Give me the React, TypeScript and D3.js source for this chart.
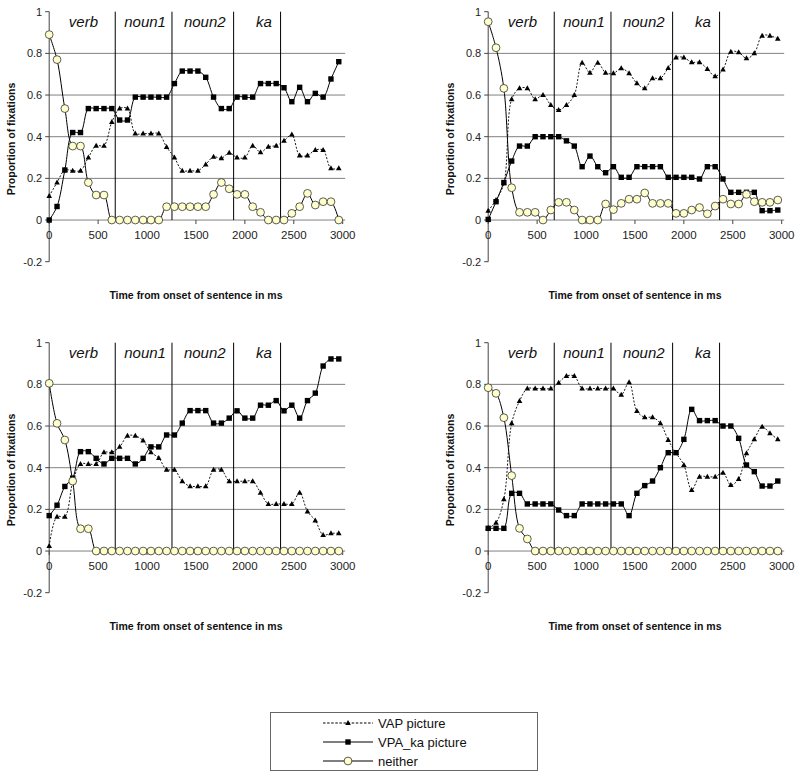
import React from 'react';
import * as d3 from 'd3';

// ---------- data ----------
const times = [0, 80, 160, 240, 320, 400, 480, 560, 640, 720, 800, 880, 960, 1040, 1120, 1200, 1280, 1360, 1440, 1520,
  1600, 1680, 1760, 1840, 1920, 2000, 2080, 2160, 2240, 2320, 2400, 2480, 2560, 2640, 2720, 2800, 2880, 2960];
const boundaries = [675, 1255, 1885, 2365];
const wordLabels = ['verb', 'noun1', 'noun2', 'ka'];
const wordLabelTimes = [350, 980, 1590, 2195];
const yTicks = [-0.2, 0, 0.2, 0.4, 0.6, 0.8, 1];
const gridValues = [0, 0.2, 0.4, 0.6, 0.8];
const xTicks = [0, 500, 1000, 1500, 2000, 2500, 3000];
const seriesNames = ['VAP picture', 'VPA_ka picture', 'neither'];
const xTitle = 'Time from onset of sentence in ms';
const yTitle = 'Proportion of fixations';

const p1VAP = [0.115, 0.18, 0.24, 0.237, 0.237, 0.30, 0.357, 0.357, 0.47, 0.535, 0.535, 0.415, 0.415, 0.415, 0.415, 0.35, 0.30, 0.237, 0.237, 0.237,
  0.267, 0.304, 0.296, 0.323, 0.30, 0.30, 0.357, 0.325, 0.352, 0.357, 0.38, 0.41, 0.31, 0.31, 0.336, 0.336, 0.248, 0.248];
const p1VPA = [0, 0.065, 0.24, 0.42, 0.42, 0.535, 0.535, 0.535, 0.535, 0.48, 0.48, 0.59, 0.59, 0.59, 0.59, 0.59, 0.655, 0.715, 0.715, 0.715,
  0.685, 0.59, 0.535, 0.535, 0.59, 0.59, 0.59, 0.655, 0.655, 0.655, 0.635, 0.568, 0.637, 0.568, 0.608, 0.59, 0.677, 0.76];
const p1Neither = [0.89, 0.77, 0.535, 0.355, 0.355, 0.18, 0.12, 0.12, 0, 0, 0, 0, 0, 0, 0, 0.064, 0.064, 0.064, 0.064, 0.064,
  0.064, 0.123, 0.18, 0.15, 0.123, 0.123, 0.064, 0.037, 0, 0, 0, 0.032, 0.064, 0.128, 0.072, 0.088, 0.088, 0];

const p2VAP = [0.045, 0.096, 0.176, 0.58, 0.632, 0.632, 0.58, 0.6, 0.552, 0.528, 0.552, 0.6, 0.755, 0.707, 0.755, 0.707, 0.704, 0.728, 0.704, 0.656,
  0.632, 0.68, 0.68, 0.73, 0.78, 0.78, 0.757, 0.757, 0.725, 0.69, 0.723, 0.808, 0.805, 0.776, 0.8, 0.885, 0.885, 0.87];
const p2VPA = [0.003, 0.088, 0.18, 0.283, 0.355, 0.355, 0.4, 0.4, 0.4, 0.4, 0.38, 0.355, 0.256, 0.307, 0.256, 0.227, 0.256, 0.205, 0.205, 0.256,
  0.256, 0.256, 0.256, 0.205, 0.205, 0.205, 0.205, 0.197, 0.256, 0.256, 0.197, 0.133, 0.133, 0.133, 0.133, 0.045, 0.045, 0.048];
const p2Neither = [0.952, 0.827, 0.632, 0.155, 0.037, 0.037, 0.037, 0, 0.048, 0.085, 0.085, 0.048, 0, 0, 0, 0.077, 0.05, 0.08, 0.1, 0.1,
  0.13, 0.08, 0.08, 0.08, 0.032, 0.032, 0.048, 0.06, 0.03, 0.067, 0.1, 0.077, 0.077, 0.123, 0.088, 0.085, 0.085, 0.096];

const p3VAP = [0.024, 0.165, 0.165, 0.33, 0.418, 0.418, 0.418, 0.474, 0.474, 0.5, 0.553, 0.553, 0.53, 0.474, 0.447, 0.39, 0.39, 0.335, 0.311, 0.311,
  0.311, 0.39, 0.39, 0.335, 0.335, 0.335, 0.335, 0.28, 0.226, 0.226, 0.226, 0.226, 0.28, 0.19, 0.147, 0.077, 0.085, 0.085];
const p3VPA = [0.17, 0.22, 0.31, 0.35, 0.477, 0.477, 0.445, 0.418, 0.445, 0.445, 0.445, 0.418, 0.445, 0.5, 0.5, 0.557, 0.557, 0.614, 0.674, 0.674,
  0.674, 0.614, 0.614, 0.638, 0.673, 0.638, 0.638, 0.70, 0.70, 0.722, 0.673, 0.70, 0.638, 0.722, 0.758, 0.888, 0.922, 0.922];
const p3Neither = [0.805, 0.613, 0.533, 0.336, 0.107, 0.107, 0, 0, 0, 0, 0, 0, 0, 0, 0, 0, 0, 0, 0, 0,
  0, 0, 0, 0, 0, 0, 0, 0, 0, 0, 0, 0, 0, 0, 0, 0, 0, 0];

const p4VAP = [0.11, 0.136, 0.248, 0.613, 0.72, 0.78, 0.78, 0.78, 0.78, 0.808, 0.84, 0.84, 0.78, 0.78, 0.78, 0.78, 0.78, 0.75, 0.81, 0.672,
  0.642, 0.642, 0.613, 0.533, 0.47, 0.413, 0.293, 0.357, 0.357, 0.357, 0.376, 0.317, 0.346, 0.469, 0.536, 0.597, 0.565, 0.536];
const p4VPA = [0.109, 0.109, 0.109, 0.277, 0.277, 0.226, 0.226, 0.226, 0.226, 0.197, 0.17, 0.17, 0.226, 0.226, 0.226, 0.226, 0.226, 0.226, 0.17, 0.277,
  0.314, 0.336, 0.4, 0.472, 0.472, 0.536, 0.68, 0.626, 0.626, 0.626, 0.6, 0.6, 0.541, 0.413, 0.381, 0.312, 0.312, 0.336];
const p4Neither = [0.784, 0.757, 0.64, 0.362, 0.109, 0.058, 0, 0, 0, 0, 0, 0, 0, 0, 0, 0, 0, 0, 0, 0,
  0, 0, 0, 0, 0, 0, 0, 0, 0, 0, 0, 0, 0, 0, 0, 0, 0, 0];

const panelData = [
  [p1VAP, p1VPA, p1Neither],
  [p2VAP, p2VPA, p2Neither],
  [p3VAP, p3VPA, p3Neither],
  [p4VAP, p4VPA, p4Neither],
];

// ---------- layout ----------
const W = 800;
const H = 778;
const offsets = [[0, 0], [439, 0], [0, 331], [439, 331]];
const FONT = "Arial, 'Liberation Sans', sans-serif";
const GRID = '#808080';
const CIRCLE_FILL = '#ffffcc';

const xScale = d3.scaleLinear().domain([0, 3000]).range([49.2, 342.7]);
const yScale = d3.scaleLinear().domain([-0.2, 1]).range([261.7, 11.7]);

const lineGen = d3.line<[number, number]>()
  .x(d => xScale(d[0]))
  .y(d => yScale(d[1]))
  .curve(d3.curveCatmullRom.alpha(0.5));

function Marker({ kind, cx, cy }: { kind: number; cx: number; cy: number }) {
  if (kind === 0) {
    const w = 5.6, h = 5;
    return <path d={`M${cx},${cy - h * 0.6}L${cx + w / 2},${cy + h * 0.4}L${cx - w / 2},${cy + h * 0.4}Z`} fill="#000" />;
  }
  if (kind === 1) {
    const s = 5.4;
    return <rect x={cx - s / 2} y={cy - s / 2} width={s} height={s} fill="#000" />;
  }
  return <circle cx={cx} cy={cy} r={3.9} fill={CIRCLE_FILL} stroke="#333" strokeWidth={0.8} />;
}

function Panel({ series, ox, oy }: { series: number[][]; ox: number; oy: number }) {
  const x0 = xScale(0);
  const x3000 = xScale(3000);
  const gridRight = x3000 + 2.5;
  return (
    <g transform={`translate(${ox},${oy})`}>
      {/* gridlines */}
      {gridValues.map(v => (
        <line key={'g' + v} x1={x0} x2={gridRight} y1={yScale(v)} y2={yScale(v)} stroke={GRID} strokeWidth={1} />
      ))}
      {/* y axis */}
      <line x1={x0} x2={x0} y1={yScale(1)} y2={yScale(-0.2)} stroke="#444" strokeWidth={1} />
      {yTicks.map(v => (
        <g key={'yt' + v}>
          <line x1={x0 - 4} x2={x0} y1={yScale(v)} y2={yScale(v)} stroke="#444" strokeWidth={1} />
          <text x={x0 - 7} y={yScale(v)} dy="0.35em" textAnchor="end" fontFamily={FONT} fontSize={11} fill="#222">
            {String(v)}
          </text>
        </g>
      ))}
      {/* x ticks */}
      {xTicks.map(t => (
        <g key={'xt' + t}>
          <line x1={xScale(t)} x2={xScale(t)} y1={yScale(0)} y2={yScale(0) + 4} stroke="#444" strokeWidth={1} />
          <text x={xScale(t)} y={yScale(0) + 19} textAnchor="middle" fontFamily={FONT} fontSize={11.5} fill="#222">
            {t}
          </text>
        </g>
      ))}
      {/* word boundaries */}
      {boundaries.map(b => (
        <line key={'b' + b} x1={xScale(b)} x2={xScale(b)} y1={yScale(1)} y2={yScale(0)} stroke="#000" strokeWidth={1} />
      ))}
      {wordLabels.map((w, i) => (
        <text key={w} x={xScale(wordLabelTimes[i])} y={yScale(1) + 15.5} textAnchor="middle" fontFamily={FONT}
          fontStyle="italic" fontSize={15} fill="#111">{w}</text>
      ))}
      {/* series */}
      {series.map((vals, si) => {
        const pts: [number, number][] = vals.map((v, i) => [times[i], v]);
        return (
          <g key={'s' + si}>
            <path d={lineGen(pts) || ''} fill="none" stroke="#000" strokeWidth={si === 0 ? 0.9 : 1}
              strokeDasharray={si === 0 ? '2,1.6' : undefined} />
            {pts.map((p, i) => (
              <Marker key={i} kind={si} cx={xScale(p[0])} cy={yScale(p[1])} />
            ))}
          </g>
        );
      })}
      {/* axis titles */}
      <text x={(x0 + x3000) / 2} y={299} textAnchor="middle" fontFamily={FONT} fontWeight="bold" fontSize={10.5} fill="#111">
        {xTitle}
      </text>
      <text transform={`translate(${x0 - 34.5},${139}) rotate(-90)`} textAnchor="middle" fontFamily={FONT}
        fontWeight="bold" fontSize={10.5} fill="#111">{yTitle}</text>
    </g>
  );
}

function Legend() {
  const bx = 270.5, by = 712.5, bw = 267, bh = 58;
  const rows = [723, 742, 761];
  const lx1 = 323, lx2 = 373, tx = 376;
  return (
    <g>
      <rect x={bx} y={by} width={bw} height={bh} fill="#fff" stroke="#666" strokeWidth={1} />
      {seriesNames.map((name, i) => (
        <g key={name}>
          <line x1={lx1} x2={lx2} y1={rows[i]} y2={rows[i]} stroke="#000" strokeWidth={1}
            strokeDasharray={i === 0 ? '2.5,1.6' : undefined} />
          <Marker kind={i} cx={(lx1 + lx2) / 2} cy={rows[i]} />
          <text x={tx + 2} y={rows[i]} dy="0.36em" fontFamily={FONT} fontSize={13} fill="#111">{name}</text>
        </g>
      ))}
    </g>
  );
}

export default function App() {
  return (
    <svg width={W} height={H} viewBox={`0 0 ${W} ${H}`}
      style={{ position: 'absolute', left: 0, top: 0, background: '#fff', display: 'block' }}>
      <rect x={0} y={0} width={W} height={H} fill="#fff" />
      {panelData.map((series, i) => (
        <Panel key={i} series={series} ox={offsets[i][0]} oy={offsets[i][1]} />
      ))}
      <Legend />
    </svg>
  );
}
